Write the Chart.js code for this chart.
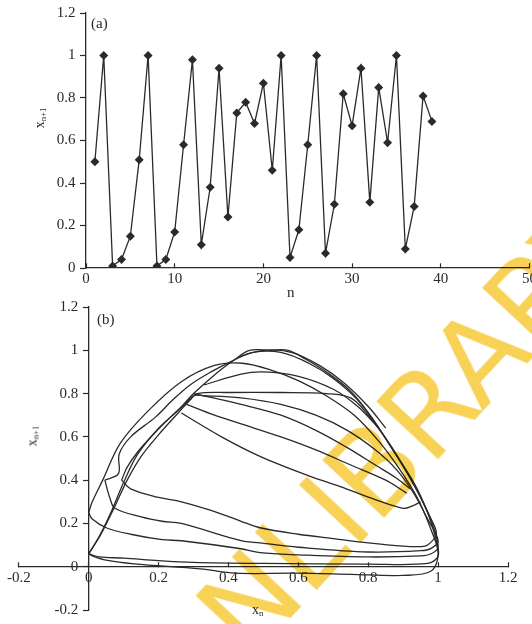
<!DOCTYPE html>
<html>
<head>
<meta charset="utf-8">
<script src="https://cdn.jsdelivr.net/npm/chart.js@4.4.1/dist/chart.umd.min.js"></script>
<style>
  html, body { margin: 0; padding: 0; background: #fff; }
  body { width: 532px; height: 624px; overflow: hidden; position: relative; }
  .wrap { position: absolute; left: 0; }
  #wrapA { top: 0; width: 544px; height: 300px; }
  #wrapB { top: 280px; width: 532px; height: 344px; }
  .lbl { position: absolute; font-family: "Liberation Serif", serif; color: #2a2a2a; white-space: nowrap; line-height: 1; }
  .lbl sub { font-size: 0.62em; vertical-align: -0.25em; }
  .ytitle { transform: translate(-50%, -50%) rotate(-90deg); font-size: 14px; }
  .wm {
    position: absolute; left: 413px; top: 428px;
    font-family: "DejaVu Sans", sans-serif; font-size: 116px; line-height: 1;
    color: #f8d256; white-space: nowrap;
    transform: translate(-50%, -50%) rotate(-47deg);
    mix-blend-mode: multiply; pointer-events: none;
  }
</style>
</head>
<body>
<div id="wrapA" class="wrap"><canvas id="chartA" width="544" height="300"></canvas></div>
<div id="wrapB" class="wrap"><canvas id="chartB" width="532" height="344"></canvas></div>

<div class="lbl" style="left:91px; top:16px; font-size:15px;">(a)</div>
<div class="lbl ytitle" style="left:40px; top:118px;">x<sub>n+1</sub></div>
<div class="lbl" style="left:287px; top:285px; font-size:15px;">n</div>

<div class="lbl" style="left:97px; top:312px; font-size:15px;">(b)</div>
<div class="lbl ytitle" style="left:33px; top:436px;">x<sub>n+1</sub></div>
<div class="lbl" style="left:252px; top:603px; font-size:14px;">x<sub>n</sub></div>

<div class="wm">NLIBRARY</div>

<script>
// panel (a): x(n+1) against n
const nValues = [1, 2, 3, 4, 5, 6, 7, 8, 9, 10, 11, 12, 13, 14, 15, 16, 17, 18, 19, 20,
  21, 22, 23, 24, 25, 26, 27, 28, 29, 30, 31, 32, 33, 34, 35, 36, 37, 38, 39];
const xValues = [0.50, 1.00, 0.01, 0.04, 0.15, 0.51, 1.00, 0.01, 0.04, 0.17,
  0.58, 0.98, 0.11, 0.38, 0.94, 0.24, 0.73, 0.78, 0.68, 0.87,
  0.46, 1.00, 0.05, 0.18, 0.58, 1.00, 0.07, 0.30, 0.82, 0.67,
  0.94, 0.31, 0.85, 0.59, 1.00, 0.09, 0.29, 0.81, 0.69];
const ticksAx = [0, 10, 20, 30, 40, 50];
const ticksAy = [0, 0.2, 0.4, 0.6, 0.8, 1, 1.2];

// panel (b): x(n+1) against x(n), traced passes of the orbit
const passOuter = [[0, 0.25], [0.01, 0.3], [0.04, 0.40], [0.09, 0.57], [0.17, 0.72], [0.265, 0.855], [0.36, 0.93],
  [0.44, 0.94], [0.52, 0.91], [0.6, 0.86], [0.68, 0.79], [0.76, 0.7], [0.83, 0.58], [0.89, 0.45], [0.94, 0.32],
  [0.98, 0.17], [1.0, 0.06], [0.98, -0.02], [0.9, -0.04], [0.75, -0.035], [0.59, -0.03], [0.42, -0.03],
  [0.32, -0.01], [0.13, 0.013], [0.05, 0.03], [0.01, 0.05], [0, 0.06]];
const passSteep1 = [[0, 0.06], [0.03, 0.14], [0.066, 0.26], [0.1, 0.39], [0.14, 0.52], [0.2, 0.64], [0.26, 0.73],
  [0.3, 0.8], [0.37, 0.9], [0.42, 0.96], [0.46, 1.0], [0.52, 1.0], [0.57, 1.0], [0.62, 0.96], [0.68, 0.9],
  [0.75, 0.81], [0.81, 0.69], [0.87, 0.54], [0.93, 0.39], [0.97, 0.25], [0.995, 0.12], [1.0, 0.05],
  [0.97, 0.015], [0.8, 0.012], [0.5, 0.015], [0.3, 0.02], [0.2, 0.028], [0.1, 0.04], [0.03, 0.045], [0, 0.06]];
const passSteep2 = [[0, 0.06], [0.035, 0.15], [0.075, 0.28], [0.11, 0.4], [0.15, 0.51], [0.2, 0.61], [0.25, 0.7],
  [0.29, 0.77], [0.31, 0.8], [0.4, 0.805], [0.55, 0.805], [0.68, 0.8], [0.75, 0.78], [0.8, 0.7], [0.86, 0.57],
  [0.91, 0.44], [0.95, 0.32], [0.985, 0.19], [1.0, 0.09], [0.98, 0.06], [0.95, 0.05], [0.8, 0.045], [0.6, 0.055],
  [0.49, 0.065], [0.436, 0.083], [0.265, 0.12], [0.21, 0.125], [0.12, 0.15], [0.05, 0.18], [0.01, 0.22], [0, 0.25]];
const passInner = [[0.046, 0.40], [0.085, 0.43], [0.087, 0.52], [0.12, 0.6], [0.19, 0.69], [0.24, 0.77], [0.29, 0.84],
  [0.35, 0.9], [0.41, 0.95], [0.47, 0.99], [0.55, 0.99], [0.63, 0.94], [0.7, 0.87], [0.77, 0.77], [0.83, 0.64],
  [0.89, 0.49], [0.94, 0.35], [0.98, 0.22], [0.995, 0.15], [0.97, 0.1], [0.95, 0.093], [0.9, 0.095], [0.8, 0.11],
  [0.7, 0.13], [0.6, 0.15], [0.49, 0.18], [0.436, 0.21], [0.35, 0.26], [0.265, 0.3], [0.2, 0.32], [0.12, 0.36],
  [0.094, 0.40]];
const passMiddle = [[0.094, 0.40], [0.11, 0.46], [0.14, 0.53], [0.19, 0.62], [0.24, 0.7], [0.28, 0.76], [0.3, 0.79],
  [0.33, 0.79], [0.436, 0.78], [0.55, 0.75], [0.65, 0.7], [0.74, 0.63], [0.82, 0.54], [0.88, 0.45], [0.93, 0.34],
  [0.97, 0.22], [1.0, 0.12], [0.98, 0.085], [0.95, 0.074], [0.8, 0.068], [0.6, 0.09], [0.49, 0.11], [0.436, 0.12],
  [0.265, 0.2], [0.21, 0.21], [0.15, 0.23], [0.075, 0.27], [0.06, 0.32], [0.046, 0.40]];
const branchA = [[0.3, 0.8], [0.436, 0.75], [0.55, 0.7], [0.65, 0.63], [0.74, 0.55], [0.82, 0.47], [0.88, 0.41], [0.92, 0.36]];
const branchB = [[0.28, 0.75], [0.36, 0.7], [0.436, 0.66], [0.55, 0.6], [0.65, 0.54], [0.75, 0.47], [0.85, 0.4], [0.91, 0.34]];
const branchHook = [[0.265, 0.71], [0.38, 0.6], [0.49, 0.51], [0.63, 0.42], [0.72, 0.37], [0.82, 0.31], [0.9, 0.27],
  [0.925, 0.28], [0.95, 0.3]];
const branchTop1 = [[0.33, 0.84], [0.436, 0.89], [0.5, 0.9], [0.6, 0.88], [0.7, 0.82], [0.77, 0.74], [0.83, 0.64]];
const branchTop2 = [[0.43, 0.97], [0.5, 1.0], [0.58, 0.99], [0.66, 0.93], [0.73, 0.85], [0.8, 0.74], [0.85, 0.64]];
const ticksBx = [-0.2, 0, 0.2, 0.4, 0.6, 0.8, 1, 1.2];
const ticksBy = [-0.2, 0, 0.2, 0.4, 0.6, 0.8, 1, 1.2];

const ink = '#2a2a2a';
const tickFont = { family: '"Liberation Serif", serif', size: 15 };

// axes sit on the zero line of the other axis; x ticks point up, y ticks point left
function axis(min, max, ticks, pos, isY) {
  return {
    type: 'linear', min, max, position: pos,
    afterBuildTicks: s => { s.ticks = ticks.map(v => ({ value: v })); },
    ticks: {
      color: ink, font: tickFont, padding: isY ? 0 : 7,
      // y labels are right-aligned on the axis line, so pad them with spaces
      callback: v => isY ? String(v) + '\u2002\u2009' : String(v),
    },
    grid: { display: true, drawOnChartArea: false, drawTicks: true, tickLength: isY ? 5 : -5, tickColor: ink, tickWidth: 1.2 },
    border: { display: true, color: ink, width: 1.3 },
  };
}

Chart.defaults.animation = false;

new Chart(document.getElementById('chartA'), {
  type: 'scatter',
  data: {
    datasets: [{
      data: nValues.map((n, i) => ({ x: n, y: xValues[i] })),
      showLine: true,
      borderColor: ink,
      borderWidth: 1.3,
      backgroundColor: ink,
      pointStyle: 'rectRot',
      pointRadius: 4.5,
      pointBorderWidth: 0,
      tension: 0,
    }]
  },
  options: {
    responsive: false,
    layout: { padding: { left: 86, top: 13, right: 11, bottom: 32 } },
    plugins: { legend: { display: false }, tooltip: { enabled: false } },
    scales: {
      x: axis(0, 50, ticksAx, { y: 0 }, false),
      y: axis(0, 1.2, ticksAy, { x: 0 }, true),
    }
  }
});

const passes = [passOuter, passSteep1, passSteep2, passInner, passMiddle,
  branchA, branchB, branchHook, branchTop1, branchTop2];

new Chart(document.getElementById('chartB'), {
  type: 'scatter',
  data: {
    datasets: passes.map(p => ({
      data: p.map(([x, y]) => ({ x, y })),
      showLine: true,
      borderColor: ink,
      borderWidth: 1.3,
      pointRadius: 0,
      tension: 0.35,
    }))
  },
  options: {
    responsive: false,
    layout: { padding: { left: 17, top: 27, right: 24, bottom: 14 } },
    plugins: { legend: { display: false }, tooltip: { enabled: false } },
    scales: {
      x: axis(-0.2, 1.2, ticksBx, { y: 0 }, false),
      y: axis(-0.2, 1.2, ticksBy, { x: 0 }, true),
    }
  }
});
</script>
</body>
</html>
